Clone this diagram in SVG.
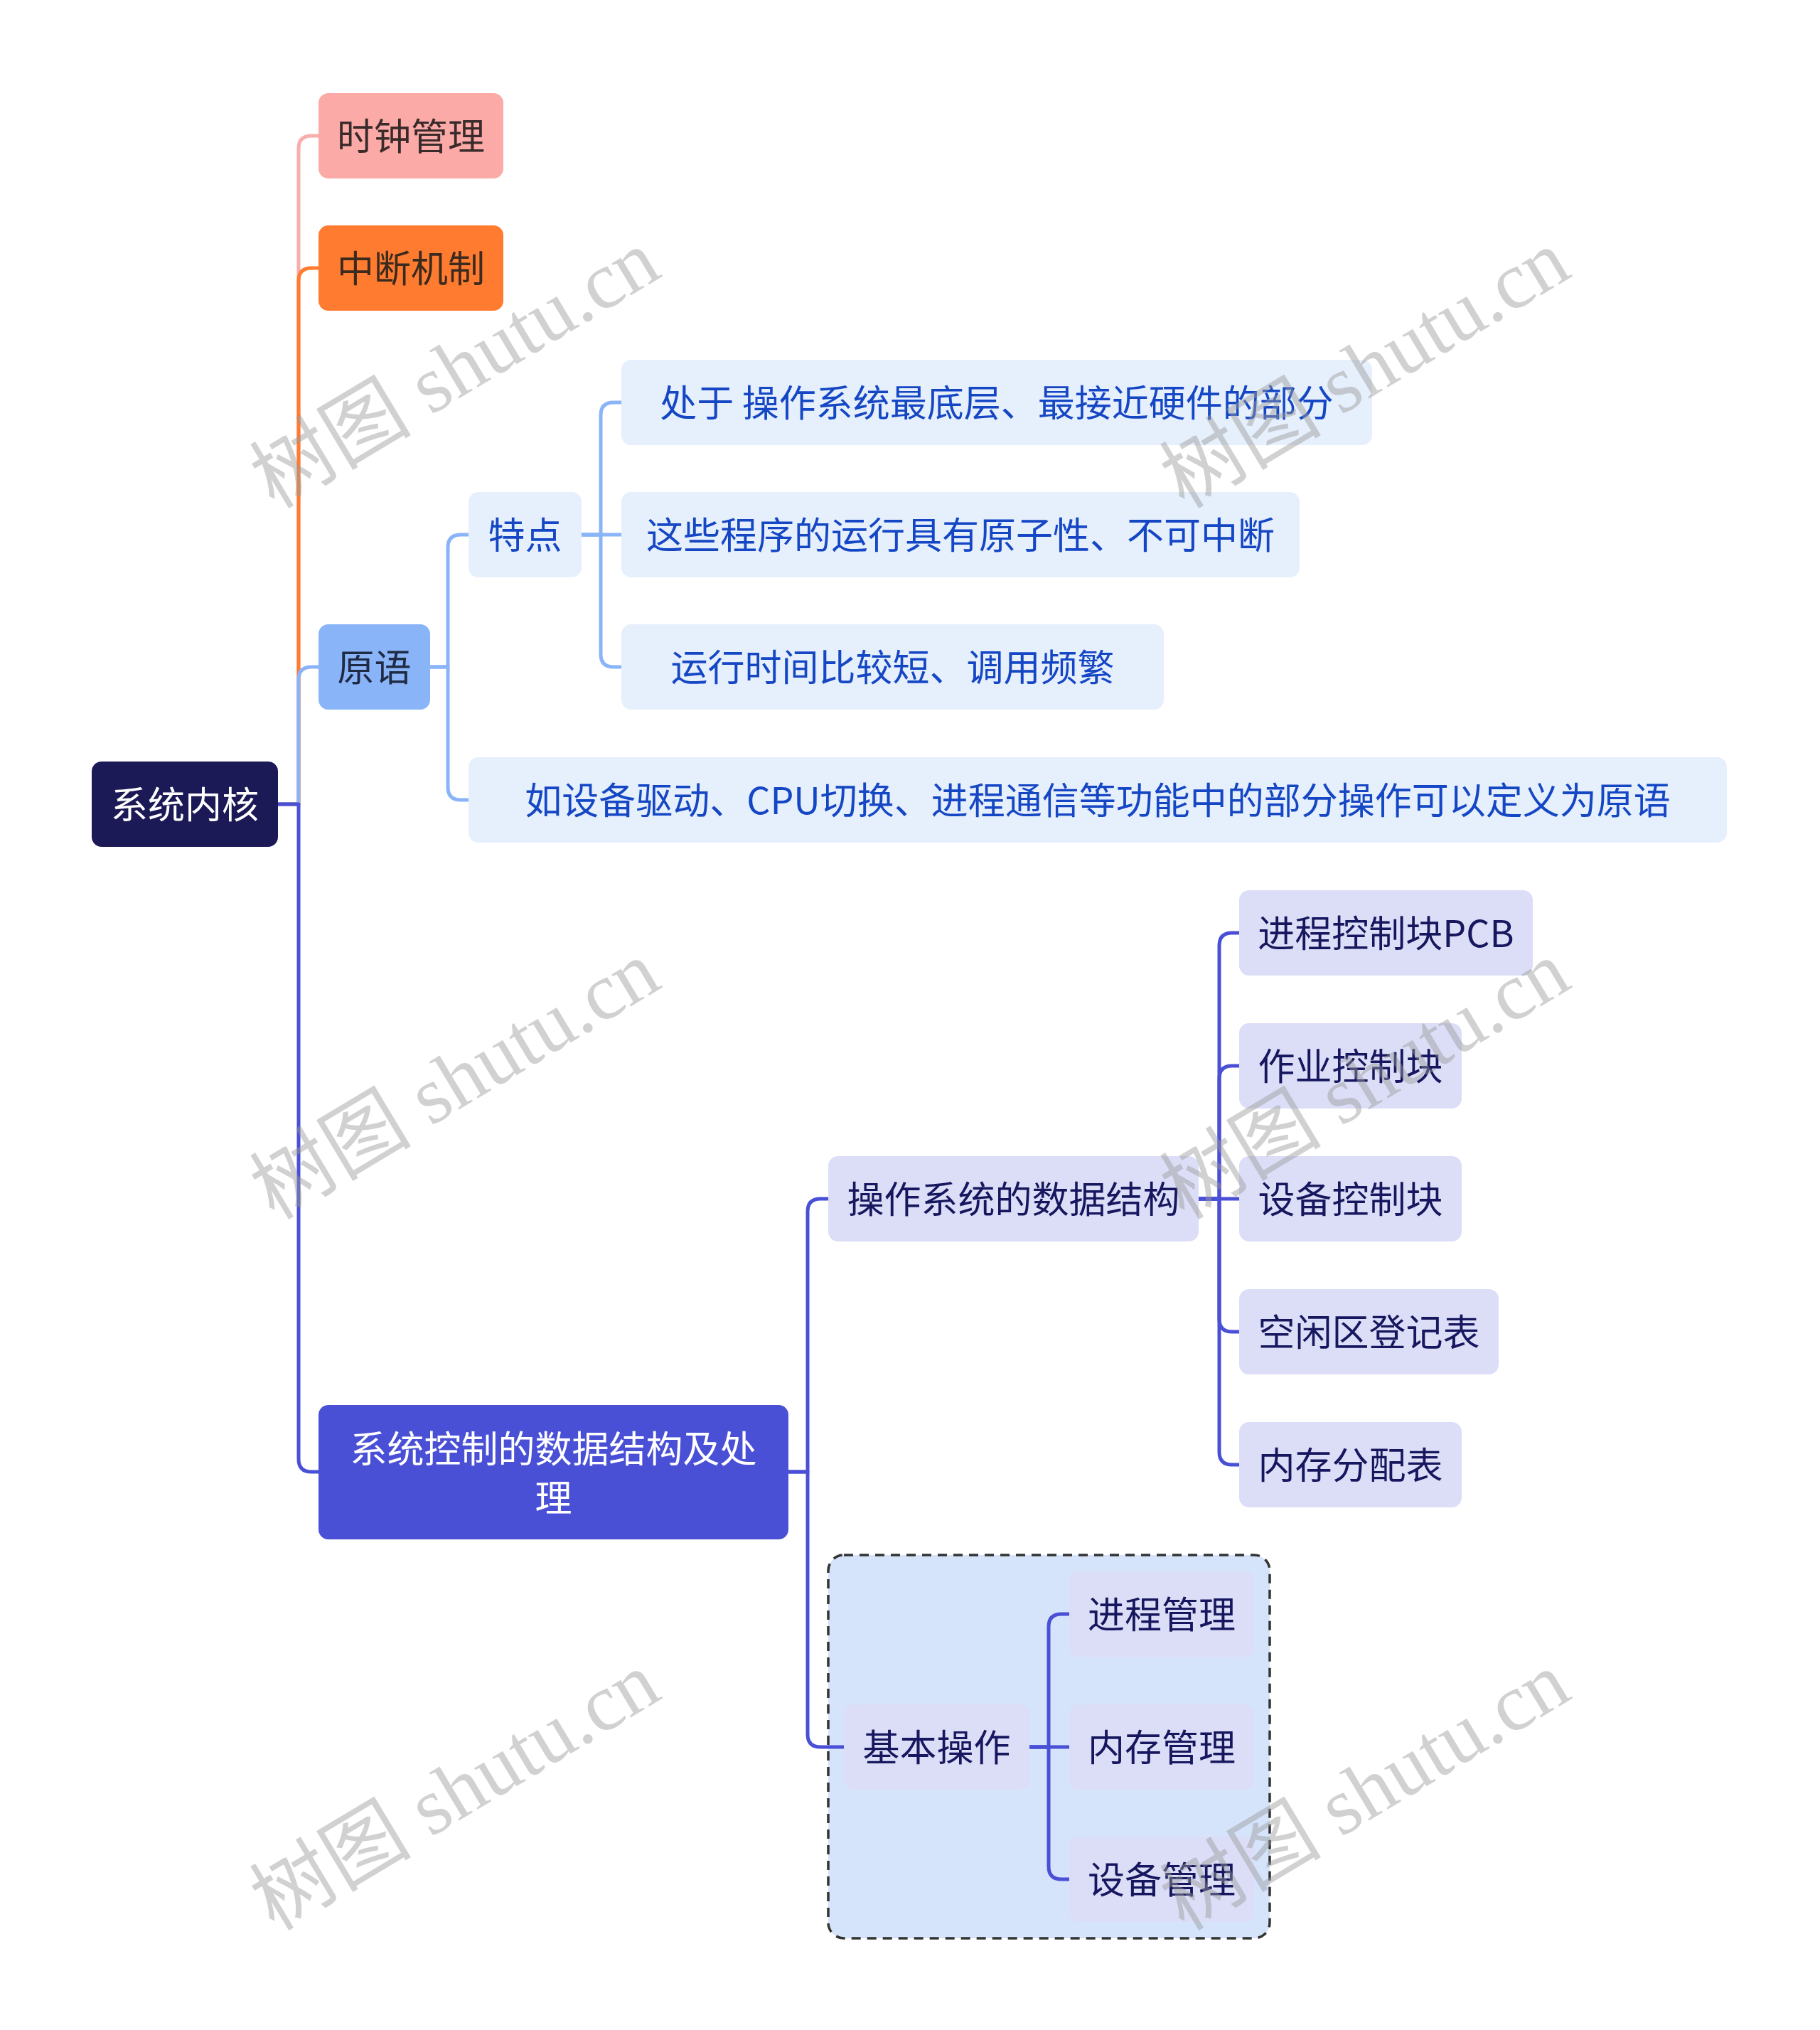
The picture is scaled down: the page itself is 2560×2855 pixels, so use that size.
<svg xmlns="http://www.w3.org/2000/svg" width="2560" height="2855" viewBox="0 0 2560 2855">
<defs>
<style>
text{font-family:"Noto Sans CJK SC","Noto Sans",sans-serif;font-size:52px;text-anchor:middle;dominant-baseline:central}
.c{fill:none;stroke-width:5;stroke-linecap:round;stroke-linejoin:round}
.pink{stroke:#F8AEAB}.orange{stroke:#FF7B2F}.lblue{stroke:#8AB4F8}.indigo{stroke:#4A50D6}
.l2{fill:#E6EFFC}.l2t{fill:#1547C5}
.l3{fill:#DCDEF7}.l3t{fill:#16175E}
.wm{font-family:"Liberation Serif","Noto Sans CJK SC",serif;font-size:114px;fill:#9a9a9a;opacity:0.45;text-anchor:middle}
</style>
</defs>
<rect width="2560" height="2855" fill="#ffffff"/>

<g id="frame-basic-ops">
<rect x="1165" y="2187" width="621" height="539" rx="22" fill="#D5E3FB" stroke="#333333" stroke-width="3.5" stroke-dasharray="13 9"/>
</g>

<g id="connectors">
<path class="c pink" d="M391,1131 H420 V209 Q420,191 438,191 H448"/>
<path class="c orange" d="M391,1131 H420 V395 Q420,377 438,377 H448"/>
<path class="c lblue" d="M391,1131 H420 V956 Q420,938 438,938 H448"/>
<path class="c indigo" d="M391,1131 H420 V2052 Q420,2070 438,2070 H448"/>

<path class="c lblue" d="M605,938 H630 V770 Q630,752 648,752 H659"/>
<path class="c lblue" d="M605,938 H630 V1107 Q630,1125 648,1125 H659"/>

<path class="c lblue" d="M818,752 H845 V584 Q845,566 863,566 H874"/>
<path class="c lblue" d="M818,752 H874"/>
<path class="c lblue" d="M818,752 H845 V920 Q845,938 863,938 H874"/>

<path class="c indigo" d="M1109,2070 H1136 V1704 Q1136,1686 1154,1686 H1165"/>
<path class="c indigo" d="M1109,2070 H1136 V2439 Q1136,2457 1154,2457 H1187"/>

<path class="c indigo" d="M1686,1686 H1715 V1330 Q1715,1312 1733,1312 H1743"/>
<path class="c indigo" d="M1686,1686 H1715 V1517 Q1715,1499 1733,1499 H1743"/>
<path class="c indigo" d="M1686,1686 H1743"/>
<path class="c indigo" d="M1686,1686 H1715 V1855 Q1715,1873 1733,1873 H1743"/>
<path class="c indigo" d="M1686,1686 H1715 V2042 Q1715,2060 1733,2060 H1743"/>

<path class="c indigo" d="M1448,2457 H1475 V2288 Q1475,2270 1493,2270 H1504"/>
<path class="c indigo" d="M1448,2457 H1504"/>
<path class="c indigo" d="M1448,2457 H1475 V2625 Q1475,2643 1493,2643 H1504"/>
</g>

<g id="root">
<rect x="129" y="1071" width="262" height="120" rx="14" fill="#1B1A57"/>
<text x="260" y="1128" fill="#ffffff">系统内核</text>
</g>

<g id="clock">
<rect x="448" y="131" width="260" height="120" rx="14" fill="#FBAAA8"/>
<text x="578" y="188" fill="#3A2B2B">时钟管理</text>
</g>

<g id="interrupt">
<rect x="448" y="317" width="260" height="120" rx="14" fill="#FF7B2F"/>
<text x="578" y="374" fill="#3B2A1E">中断机制</text>
</g>

<g id="primitive">
<rect x="448" y="878" width="157" height="120" rx="14" fill="#8AB4F8"/>
<text x="526.5" y="935" fill="#1F2A44">原语</text>
</g>

<g id="sysctl">
<rect x="448" y="1976" width="661" height="189" rx="14" fill="#4A50D6"/>
<text x="778.5" y="2034" fill="#ffffff">系统控制的数据结构及处</text>
<text x="778.5" y="2103" fill="#ffffff">理</text>
</g>

<g id="feature">
<rect class="l2" x="659" y="692" width="159" height="120" rx="14"/>
<text class="l2t" x="738.5" y="749">特点</text>
</g>

<g id="feature-1">
<rect class="l2" x="874" y="506" width="1056" height="120" rx="14"/>
<text class="l2t" x="1402" y="563">处于 操作系统最底层、最接近硬件的部分</text>
</g>

<g id="feature-2">
<rect class="l2" x="874" y="692" width="954" height="120" rx="14"/>
<text class="l2t" x="1351" y="749">这些程序的运行具有原子性、不可中断</text>
</g>

<g id="feature-3">
<rect class="l2" x="874" y="878" width="763" height="120" rx="14"/>
<text class="l2t" x="1255.5" y="935">运行时间比较短、调用频繁</text>
</g>

<g id="example">
<rect class="l2" x="659" y="1065" width="1770" height="120" rx="14"/>
<text class="l2t" x="1544" y="1122">如设备驱动、CPU切换、进程通信等功能中的部分操作可以定义为原语</text>
</g>

<g id="os-ds">
<rect class="l3" x="1165" y="1626" width="521" height="120" rx="14"/>
<text class="l3t" x="1425.5" y="1683">操作系统的数据结构</text>
</g>

<g id="pcb">
<rect class="l3" x="1743" y="1252" width="413" height="120" rx="14"/>
<text class="l3t" x="1949.5" y="1309">进程控制块PCB</text>
</g>

<g id="jcb">
<rect class="l3" x="1743" y="1439" width="313" height="120" rx="14"/>
<text class="l3t" x="1899.5" y="1496">作业控制块</text>
</g>

<g id="dcb">
<rect class="l3" x="1743" y="1626" width="313" height="120" rx="14"/>
<text class="l3t" x="1899.5" y="1683">设备控制块</text>
</g>

<g id="free-table">
<rect class="l3" x="1743" y="1813" width="365" height="120" rx="14"/>
<text class="l3t" x="1925.5" y="1870">空闲区登记表</text>
</g>

<g id="mem-table">
<rect class="l3" x="1743" y="2000" width="313" height="120" rx="14"/>
<text class="l3t" x="1899.5" y="2057">内存分配表</text>
</g>

<g id="basic-ops">
<rect class="l3" x="1187" y="2397" width="261" height="120" rx="14"/>
<text class="l3t" x="1317.5" y="2454">基本操作</text>
</g>

<g id="proc-mgmt">
<rect class="l3" x="1504" y="2210" width="260" height="120" rx="14"/>
<text class="l3t" x="1634" y="2267">进程管理</text>
</g>

<g id="mem-mgmt">
<rect class="l3" x="1504" y="2397" width="260" height="120" rx="14"/>
<text class="l3t" x="1634" y="2454">内存管理</text>
</g>

<g id="dev-mgmt">
<rect class="l3" x="1504" y="2583" width="260" height="120" rx="14"/>
<text class="l3t" x="1634" y="2640">设备管理</text>
</g>

<g id="watermarks">
<text class="wm" transform="translate(640,519) rotate(-31)">树图 shutu.cn</text>
<text class="wm" transform="translate(1920,519) rotate(-31)">树图 shutu.cn</text>
<text class="wm" transform="translate(640,1519) rotate(-31)">树图 shutu.cn</text>
<text class="wm" transform="translate(1920,1519) rotate(-31)">树图 shutu.cn</text>
<text class="wm" transform="translate(640,2519) rotate(-31)">树图 shutu.cn</text>
<text class="wm" transform="translate(1920,2519) rotate(-31)">树图 shutu.cn</text>
</g>
</svg>
